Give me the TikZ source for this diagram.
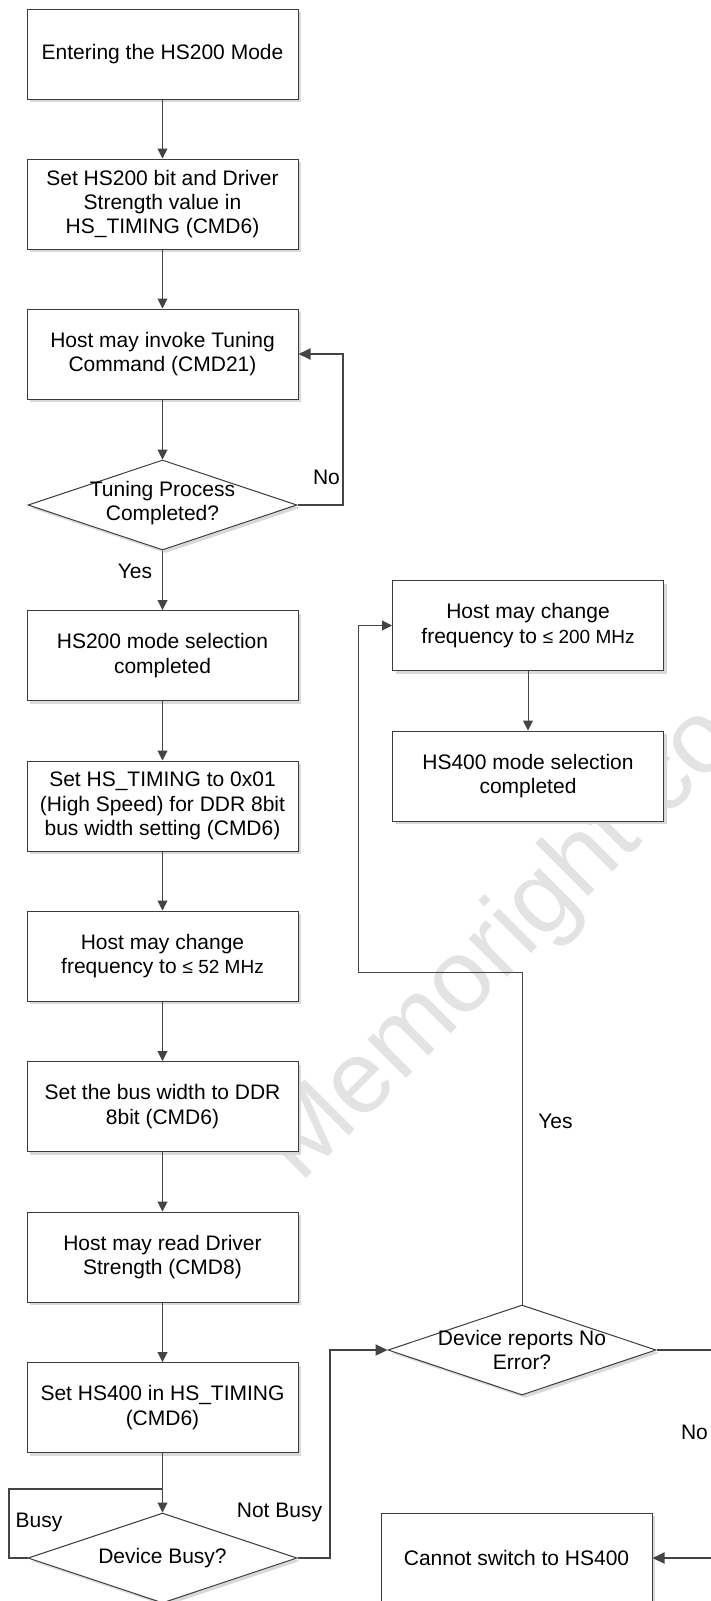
\documentclass[tikz,border=0pt]{standalone}
\usepackage{fontspec}
\setmainfont{Liberation Sans}
\usetikzlibrary{arrows.meta,shapes.geometric,shadows}

\definecolor{edge}{HTML}{3C3C3C}
\definecolor{wire}{HTML}{444444}
\definecolor{wmark}{HTML}{E3E3E3}

\tikzset{
  txt/.style={font=\fontsize{21}{24.2}\selectfont},
  boxshadow/.style={drop shadow={shadow xshift=3pt, shadow yshift=-3pt, fill=black!15, opacity=1}},
  stepbox/.style={txt, draw=edge, line width=1pt, fill=white, minimum width=271pt,
    minimum height=90pt, inner sep=0pt, align=center, boxshadow},
  decision/.style={diamond, draw=edge, line width=1pt, fill=white, minimum width=269pt,
    minimum height=90pt, inner sep=0pt, boxshadow},
  dtext/.style={txt, align=center, inner sep=0pt},
  tag/.style={txt, inner sep=0pt},
  flow/.style={draw=wire, line width=1pt, -{Triangle[length=10pt,width=10pt]}},
  loopline/.style={draw=wire, line width=2pt, -{Triangle[length=12pt,width=11pt]}},
}
\newcommand{\smallmhz}[1]{{\fontsize{19}{24.2}\selectfont #1}}

\begin{document}
\begin{tikzpicture}[x=1pt,y=-1pt]
\useasboundingbox (0,0) rectangle (711,1601);
\clip (0,0) rectangle (711,1601);

% background watermark
\node[anchor=base west, rotate=45, inner sep=0pt, text=wmark,
      font=\fontsize{103}{103}\selectfont] (wm) at (300,1185) {Memoright co};

% main column
\node[stepbox] (b1) at (162.5,54)   {Entering the HS200 Mode};
\node[stepbox] (b2) at (162.5,204)  {Set HS200 bit and Driver\\Strength value in\\HS\_TIMING (CMD6)};
\node[stepbox] (b3) at (162.5,354)  {Host may invoke Tuning\\Command (CMD21)};
\node[decision] (d1) at (162.5,505) {};
\node[dtext] (d1t) at (162.5,503)   {Tuning Process\\Completed?};
\node[stepbox] (b4) at (162.5,655.5) {HS200 mode selection\\completed};
\node[stepbox] (b5) at (162.5,806)  {Set HS\_TIMING to 0x01\\(High Speed) for DDR 8bit\\bus width setting (CMD6)};
\node[stepbox] (b6) at (162.5,956)  {Host may change\\frequency to \smallmhz{≤ 52 MHz}};
\node[stepbox] (b7) at (162.5,1106.5) {Set the bus width to DDR\\8bit (CMD6)};
\node[stepbox] (b8) at (162.5,1257) {Host may read Driver\\Strength (CMD8)};
\node[stepbox] (b9) at (162.5,1407.5) {Set HS400 in HS\_TIMING\\(CMD6)};
\node[decision] (d2) at (162.5,1558) {};
\node[dtext] (d2t) at (162.5,1558)  {Device Busy?};

% right column
\node[stepbox] (bA) at (528,625.5)  {Host may change\\frequency to \smallmhz{≤ 200 MHz}};
\node[stepbox] (bB) at (528,776)    {HS400 mode selection\\completed};
\node[decision, minimum width=268pt] (d3) at (522,1350) {};
\node[dtext] (d3t) at (522,1350)    {Device reports No\\Error?};
\node[stepbox] (bC) at (516.5,1558) {Cannot switch to HS400};

% bend points
\coordinate (busyj) at (162.5,1489);
\coordinate (yesbend) at (358,972);
\coordinate (nobend) at (740,1350);

% straight flow
\draw[flow] (b1) -- (b2);
\draw[flow] (b2) -- (b3);
\draw[flow] (b3) -- (d1);
\draw[flow] (d1) -- (b4);
\draw[flow] (b4) -- (b5);
\draw[flow] (b5) -- (b6);
\draw[flow] (b6) -- (b7);
\draw[flow] (b7) -- (b8);
\draw[flow] (b8) -- (b9);
\draw[flow] (b9) -- (d2);
\draw[flow] (bA) -- (bB);

% loops and branches
\draw[loopline] (d1.east) -- ++(45,0) |- (b3.east);
\draw[loopline, -] (d2.west) -- ++(-19,0) |- (busyj);
\draw[loopline] (d2.east) -- ++(32,0) |- (d3.west);
\draw[flow] (d3.north) |- (yesbend) |- (bA.west);
\draw[loopline] (d3.east) -- (nobend) |- (bC.east);

% branch labels
\node[tag] (lyes1) at (135,571)    {Yes};
\node[tag] (lno1) at (326.5,477)   {No};
\node[tag] (lbusy) at (39,1522)    {Busy};
\node[tag] (lnbusy) at (279.5,1512) {Not Busy};
\node[tag] (lyes2) at (555.5,1121) {Yes};
\node[tag] (lno2) at (694.5,1432)  {No};
\end{tikzpicture}
\end{document}
